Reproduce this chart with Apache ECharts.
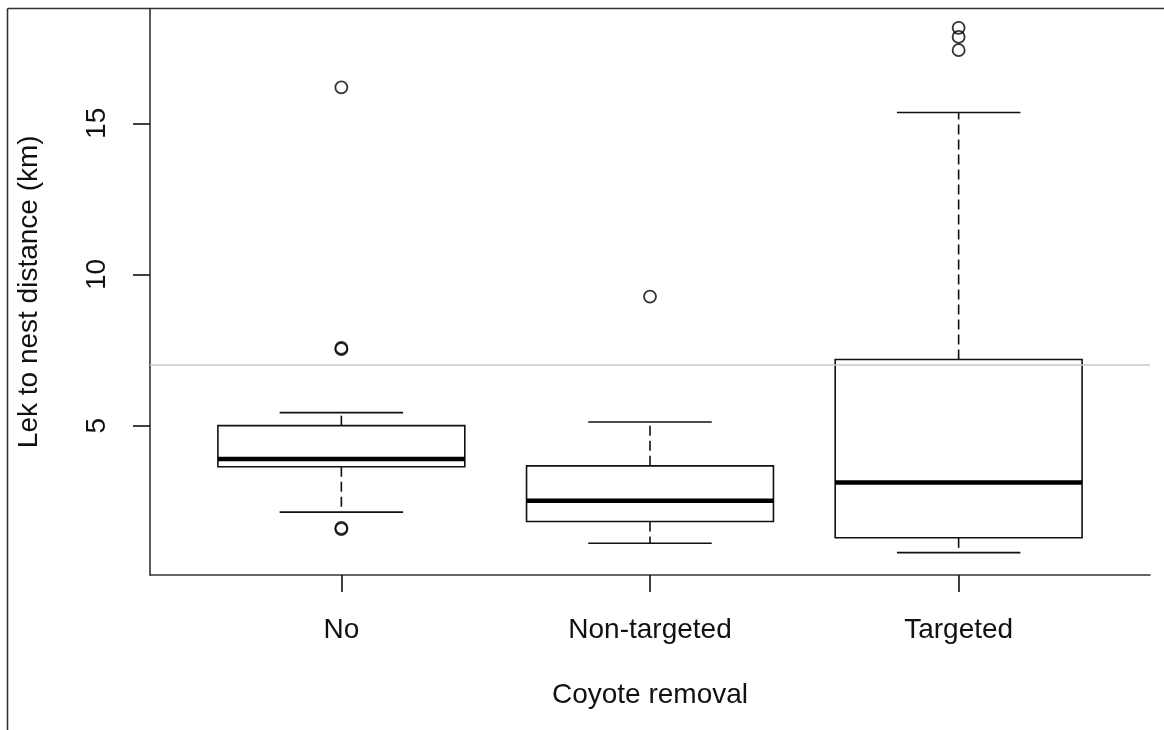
<!DOCTYPE html>
<html>
<head>
<meta charset="utf-8">
<script src="https://cdn.jsdelivr.net/npm/echarts@6/dist/echarts.min.js"></script>
<style>
  html, body { margin: 0; padding: 0; background: #fff; }
  #chart { width: 1164px; height: 730px; }
</style>
</head>
<body>
<div id="chart"></div>
<script>
// ---- data ----
const categories = ['No', 'Non-targeted', 'Targeted'];
// [lower whisker, Q1, median, Q3, upper whisker]
const noStats = [2.14, 3.64, 3.90, 5.00, 5.43];
const nonTargetedStats = [1.11, 1.83, 2.52, 3.67, 5.12];
const targetedStats = [0.80, 1.29, 3.12, 7.19, 15.36];
// outliers per group
const noOutliers = [16.19, 7.57, 7.53, 1.62, 1.58];
const nonTargetedOutliers = [9.27];
const targetedOutliers = [18.16, 17.86, 17.42];
const referenceLine = 7;
const yTicks = [5, 10, 15];
const xTicks = [1, 2, 3];

const statsList = [noStats, nonTargetedStats, targetedStats];
const outlierList = [noOutliers, nonTargetedOutliers, targetedOutliers];

const boxData = statsList.map((s, i) => [i + 1].concat(s));
const outlierData = [];
outlierList.forEach((arr, i) => arr.forEach(v => outlierData.push([i + 1, v])));

const FONT = '"Liberation Sans", Arial, Helvetica, sans-serif';
const INK = '#111111';

const chart = echarts.init(document.getElementById('chart'), null, { renderer: 'canvas' });

chart.setOption({
  animation: false,
  backgroundColor: '#ffffff',
  grid: { left: 150, right: 14, top: 8.5, bottom: 155, containLabel: false },
  xAxis: {
    type: 'value',
    min: 0.38,
    max: 3.62,
    name: 'Coyote removal',
    nameLocation: 'middle',
    nameGap: 106,
    nameTextStyle: { fontFamily: FONT, fontSize: 28, color: INK },
    axisLine: { show: true, onZero: false, lineStyle: { color: '#333', width: 1.6 } },
    axisTick: { show: true, customValues: xTicks, length: 17, lineStyle: { color: '#111', width: 1.6 } },
    axisLabel: {
      customValues: xTicks,
      margin: 41,
      fontFamily: FONT, fontSize: 28, color: INK,
      formatter: v => categories[Math.round(v) - 1] || ''
    },
    splitLine: { show: false }
  },
  yAxis: {
    type: 'value',
    min: 0.06,
    max: 18.8,
    name: 'Lek to nest distance (km)',
    nameLocation: 'middle',
    nameGap: 107,
    nameRotate: 90,
    nameTextStyle: { fontFamily: FONT, fontSize: 28, color: INK },
    axisLine: { show: true, onZero: false, lineStyle: { color: '#333', width: 1.6 } },
    axisTick: { show: true, customValues: yTicks, length: 17, lineStyle: { color: '#111', width: 1.6 } },
    axisLabel: {
      customValues: yTicks,
      rotate: 90,
      margin: 39,
      fontFamily: FONT, fontSize: 28, color: INK
    },
    splitLine: { show: false }
  },
  graphic: [
    { type: 'line', z: 100, shape: { x1: 7.5, y1: 8.5, x2: 1164, y2: 8.5 }, style: { stroke: '#333', lineWidth: 1.6 } },
    { type: 'line', z: 100, shape: { x1: 7.5, y1: 8.5, x2: 7.5, y2: 730 }, style: { stroke: '#333', lineWidth: 1.6 } }
  ],
  series: [
    {
      type: 'custom',
      z: 2,
      data: boxData,
      encode: { x: 0, y: [1, 2, 3, 4, 5] },
      renderItem: function (params, api) {
        const x = api.value(0);
        const lo = api.coord([x, api.value(1)]);
        const q1 = api.coord([x, api.value(2)]);
        const med = api.coord([x, api.value(3)]);
        const q3 = api.coord([x, api.value(4)]);
        const hi = api.coord([x, api.value(5)]);
        const boxW = api.size([0.8, 0], [x, 0])[0];
        const capW = boxW * 0.5;
        const cx = med[0];
        const lineStyle = { stroke: INK, lineWidth: 1.6, fill: null };
        return {
          type: 'group',
          children: [
            { type: 'line', shape: { x1: cx, y1: q3[1], x2: cx, y2: hi[1] }, style: Object.assign({}, lineStyle, { lineDash: [10, 5] }) },
            { type: 'line', shape: { x1: cx, y1: q1[1], x2: cx, y2: lo[1] }, style: Object.assign({}, lineStyle, { lineDash: [10, 5] }) },
            { type: 'line', shape: { x1: cx - capW / 2, y1: hi[1], x2: cx + capW / 2, y2: hi[1] }, style: lineStyle },
            { type: 'line', shape: { x1: cx - capW / 2, y1: lo[1], x2: cx + capW / 2, y2: lo[1] }, style: lineStyle },
            { type: 'rect', shape: { x: cx - boxW / 2, y: q3[1], width: boxW, height: q1[1] - q3[1] }, style: { fill: '#fff', stroke: INK, lineWidth: 1.6 } },
            { type: 'line', shape: { x1: cx - boxW / 2, y1: med[1], x2: cx + boxW / 2, y2: med[1] }, style: { stroke: '#000', lineWidth: 4.5 } }
          ]
        };
      }
    },
    {
      type: 'scatter',
      z: 3,
      data: outlierData,
      symbol: 'circle',
      symbolSize: 12,
      itemStyle: { color: 'rgba(255,255,255,0)', borderColor: '#000', borderWidth: 1.8 },
      markLine: {
        silent: true,
        symbol: ['none', 'none'],
        label: { show: false },
        lineStyle: { color: '#c8c8c8', width: 1.6, type: 'solid' },
        data: [{ yAxis: referenceLine }]
      }
    }
  ]
});
</script>
</body>
</html>
